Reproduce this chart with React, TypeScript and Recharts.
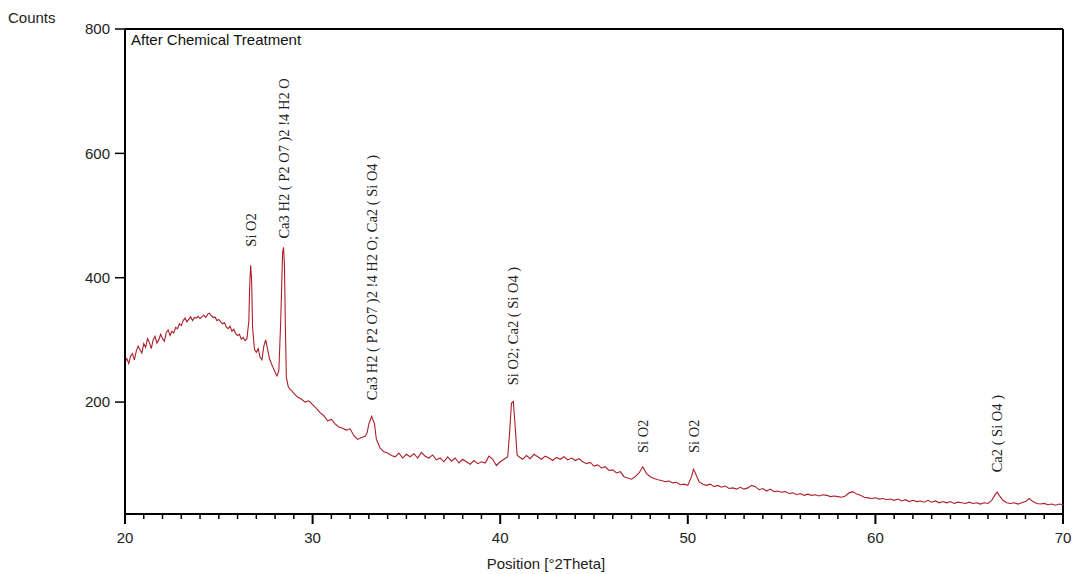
import { LineChart, Line, XAxis, YAxis, ReferenceLine, ReferenceDot } from "recharts"

// scan, [position °2θ, counts]
const amorphousHump: [number, number][] = [
  [20.0, 264], [20.1, 270], [20.2, 262], [20.3, 274], [20.4, 278], [20.5, 268],
  [20.6, 282], [20.7, 290], [20.8, 284], [20.9, 279], [21.0, 294], [21.1, 288],
  [21.2, 302], [21.3, 296], [21.4, 286], [21.5, 300], [21.6, 306], [21.7, 295],
  [21.8, 300], [21.9, 309], [22.0, 302], [22.1, 298], [22.2, 312], [22.3, 316],
  [22.4, 307], [22.5, 314], [22.6, 311], [22.7, 320], [22.8, 318], [22.9, 326],
  [23.0, 323], [23.1, 331], [23.2, 335], [23.3, 329], [23.4, 333], [23.5, 337],
  [23.6, 331], [23.7, 336], [23.8, 335], [23.9, 338], [24.0, 334], [24.1, 337],
  [24.2, 340], [24.3, 336], [24.4, 341], [24.5, 343], [24.6, 339], [24.7, 336],
  [24.8, 337], [24.9, 331], [25.0, 333], [25.1, 329], [25.2, 326], [25.3, 328],
  [25.4, 321], [25.5, 318], [25.6, 322], [25.7, 314], [25.8, 317], [25.9, 310],
  [26.0, 307], [26.1, 309], [26.2, 301], [26.3, 304], [26.4, 299], [26.5, 302],
]

const mainPeaks: [number, number][] = [
  [26.6, 330], [26.65, 390], [26.7, 420], [26.75, 395], [26.8, 320], [26.9, 285],
  [27.0, 280], [27.1, 286], [27.2, 272], [27.3, 268], [27.4, 290], [27.5, 300],
  [27.6, 285], [27.7, 270], [27.8, 262], [27.9, 255], [28.0, 248], [28.1, 242],
  [28.2, 250], [28.3, 330], [28.4, 440], [28.45, 449], [28.5, 420], [28.55, 320],
  [28.6, 240], [28.7, 225], [28.8, 220], [28.9, 218], [29.0, 214], [29.2, 208],
  [29.4, 205], [29.6, 200], [29.8, 202], [30.0, 196],
]

const midRange: [number, number][] = [
  [30.2, 190], [30.4, 183], [30.6, 178], [30.8, 170], [31.0, 172], [31.2, 165],
  [31.4, 160], [31.6, 158], [31.8, 155], [32.0, 157], [32.2, 146], [32.4, 140],
  [32.6, 143], [32.8, 145], [32.9, 150], [33.0, 165], [33.15, 177], [33.3, 165],
  [33.4, 140], [33.6, 126], [33.8, 120], [34.0, 118], [34.2, 114], [34.4, 112],
  [34.6, 118], [34.8, 110], [35.0, 116], [35.2, 112], [35.4, 117], [35.6, 110],
  [35.8, 119], [36.0, 113], [36.2, 110], [36.4, 115], [36.6, 107], [36.8, 110],
  [37.0, 104], [37.2, 112], [37.4, 105], [37.6, 110], [37.8, 102], [38.0, 108],
  [38.2, 104], [38.4, 100], [38.6, 106], [38.8, 101], [39.0, 104], [39.2, 102],
  [39.4, 113], [39.6, 108], [39.8, 98], [40.0, 104], [40.2, 108], [40.4, 112],
  [40.5, 150], [40.6, 198], [40.7, 201], [40.8, 160], [40.9, 115], [41.0, 112],
  [41.2, 108], [41.4, 114], [41.6, 109], [41.8, 116], [42.0, 112], [42.2, 108],
  [42.4, 113], [42.6, 110], [42.8, 106], [43.0, 111], [43.2, 108], [43.4, 112],
  [43.6, 107], [43.8, 110], [44.0, 106], [44.2, 109], [44.4, 104], [44.6, 101],
  [44.8, 103], [45.0, 97], [45.2, 99], [45.4, 94], [45.6, 96], [45.8, 90],
  [46.0, 91], [46.2, 86], [46.4, 88], [46.6, 80], [46.8, 78], [47.0, 76],
  [47.2, 80], [47.4, 86], [47.6, 96], [47.8, 85], [48.0, 80], [48.2, 77],
  [48.4, 75], [48.6, 74], [48.8, 72], [49.0, 73], [49.2, 70], [49.4, 71],
  [49.6, 67], [49.8, 68], [50.0, 66], [50.2, 80], [50.3, 92], [50.4, 86],
  [50.6, 72], [50.8, 68],
]

const highAngle: [number, number][] = [
  [51.0, 66], [51.2, 68], [51.4, 64], [51.6, 66], [51.8, 63], [52.0, 65],
  [52.2, 61], [52.4, 62], [52.6, 60], [52.8, 63], [53.0, 60], [53.2, 62],
  [53.4, 66], [53.6, 64], [53.8, 59], [54.0, 61], [54.2, 57], [54.4, 60],
  [54.6, 56], [54.8, 57], [55.0, 55], [55.2, 56], [55.4, 53], [55.6, 54],
  [55.8, 51], [56.0, 53], [56.2, 50], [56.4, 52], [56.6, 50], [56.8, 51],
  [57.0, 49], [57.2, 51], [57.4, 50], [57.6, 48], [57.8, 49], [58.0, 48],
  [58.2, 47], [58.4, 49], [58.6, 54], [58.8, 56], [59.0, 52], [59.2, 50],
  [59.4, 47], [59.6, 46], [59.8, 45], [60.0, 46], [60.2, 44], [60.4, 45],
  [60.6, 43], [60.8, 44], [61.0, 42], [61.2, 44], [61.4, 41], [61.6, 43],
  [61.8, 40], [62.0, 42], [62.2, 40], [62.4, 41], [62.6, 39], [62.8, 42],
  [63.0, 39], [63.2, 41], [63.4, 38], [63.6, 40], [63.8, 38], [64.0, 40],
  [64.2, 37], [64.4, 39], [64.6, 38], [64.8, 37], [65.0, 39], [65.2, 37],
  [65.4, 38], [65.6, 36], [65.8, 38], [66.0, 37], [66.2, 42], [66.4, 52],
  [66.5, 55], [66.6, 50], [66.8, 42], [67.0, 38], [67.2, 37], [67.4, 38],
  [67.6, 36], [67.8, 38], [68.0, 40], [68.2, 45], [68.4, 40], [68.6, 37],
  [68.8, 36], [69.0, 37], [69.2, 35], [69.4, 36], [69.6, 34], [69.8, 36],
  [70.0, 35],
]

// phase labels: position, counts where the text starts, text
const peakLabels: [number, number, string][] = [
  [26.7, 450, "Si O2"],
  [28.48, 463, "Ca3 H2 ( P2 O7 )2 !4 H2 O"],
  [33.15, 203, "Ca3 H2 ( P2 O7 )2 !4 H2 O; Ca2 ( Si O4 )"],
  [40.68, 227, "Si O2; Ca2 ( Si O4 )"],
  [47.6, 118, "Si O2"],
  [50.32, 118, "Si O2"],
  [66.5, 87, "Ca2 ( Si O4 )"],
]

const yTicks = [200, 400, 600, 800]
const xMajor = [20, 30, 40, 50, 60, 70]
const xTicks = Array.from({ length: 51 }, (_, i) => 20 + i)

const data = [...amorphousHump, ...mainPeaks, ...midRange, ...highAngle].map(([theta, counts]) => ({
  theta,
  counts,
}))

const sans = "'Liberation Sans', Arial, sans-serif"
const serif = "'Liberation Serif', 'Times New Roman', serif"

const XTick = (props: any) => {
  const { x, y, payload } = props
  const major = xMajor.includes(payload.value)
  return (
    <g>
      <line x1={x} x2={x} y1={y} y2={y + (major ? 10 : 5)} stroke="#000" strokeWidth={major ? 2 : 1.5} />
      {major && (
        <text x={x} y={y + 29} textAnchor="middle" fontFamily={sans} fontSize={15} fill="#222">
          {payload.value}
        </text>
      )}
    </g>
  )
}

const PeakText = (text: string) => (props: any) => {
  const { cx, cy } = props
  return (
    <text
      x={cx}
      y={cy}
      dy="0.35em"
      transform={`rotate(-90 ${cx} ${cy})`}
      fontFamily={serif}
      fontSize={14.5}
      fill="#222"
    >
      {text}
    </text>
  )
}

export default function App() {
  return (
    <div style={{ position: "absolute", left: 0, top: 0, width: 1073, height: 574, background: "#fff" }}>
      <LineChart width={1073} height={574} data={data} margin={{ top: 29, right: 10, bottom: 0, left: 0 }}>
        <XAxis
          dataKey="theta"
          type="number"
          domain={[20, 70]}
          ticks={xTicks}
          interval={0}
          tickSize={0}
          tickMargin={0}
          tickLine={false}
          tick={<XTick />}
          height={60}
          axisLine={{ stroke: "#000", strokeWidth: 2 }}
        />
        <YAxis
          type="number"
          domain={[20, 800]}
          ticks={yTicks}
          width={125}
          tickSize={10}
          tickMargin={5}
          tickLine={{ stroke: "#000", strokeWidth: 1.5 }}
          axisLine={{ stroke: "#000", strokeWidth: 2 }}
          tick={{ fill: "#222", fontSize: 15, fontFamily: sans }}
        />
        <ReferenceLine y={800} stroke="#000" strokeWidth={2} />
        <ReferenceLine x={70} stroke="#000" strokeWidth={2} />
        <Line
          type="linear"
          dataKey="counts"
          stroke="#ac1f29"
          strokeWidth={1.1}
          dot={false}
          isAnimationActive={false}
        />
        {peakLabels.map(([theta, at, text], i) => (
          <ReferenceDot key={i} x={theta} y={at} r={0} ifOverflow="visible" shape={PeakText(text)} />
        ))}
      </LineChart>
      <div style={{ position: "absolute", left: 8, top: 9, fontFamily: sans, fontSize: 15, color: "#222" }}>Counts</div>
      <div style={{ position: "absolute", left: 131, top: 31, fontFamily: sans, fontSize: 15, color: "#111" }}>
        After Chemical Treatment
      </div>
      <div
        style={{
          position: "absolute",
          left: 0,
          width: 1092,
          top: 555,
          textAlign: "center",
          fontFamily: sans,
          fontSize: 15,
          color: "#222",
        }}
      >
        Position [°2Theta]
      </div>
    </div>
  )
}
